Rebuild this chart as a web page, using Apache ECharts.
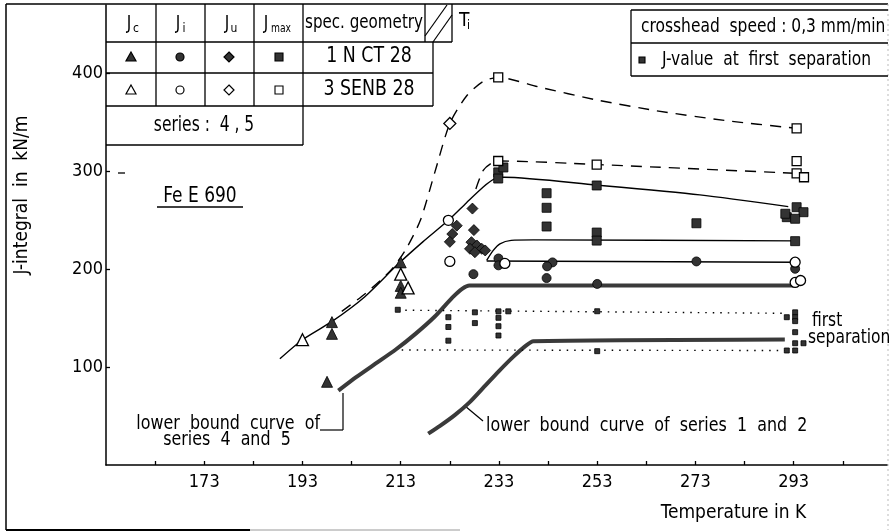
<!DOCTYPE html>
<html><head><meta charset="utf-8">
<script src="https://cdn.jsdelivr.net/npm/echarts@6/dist/echarts.min.js"></script>
<style>html,body{margin:0;padding:0;background:#fff}#c{width:890px;height:532px}</style>
</head><body><div id="c"></div>
<script>
// ---- data (T in K, J in kN/m) ----
const xTickValues = [163,173,183,193,203,213,223,233,243,253,263,273,283,293,303];
const xLabelValues = [173,193,213,233,253,273,293];
const yLabelValues = [100,200,300,400];

const jcCT   = [[198,85],[199,146],[199,134],[213,207],[213,183],[213,176]];
const jcSENB = [[193,128],[213,195],[214.5,181]];
const jiCT   = [[232.9,211],[232.9,204],[243.9,207],[242.8,203],[242.7,191],[227.8,195],[273.2,208],[253,185],[293.3,200.5]];
const jiSENB = [[222.7,250],[223,208],[234.2,206],[293.3,207.2],[293.3,186.5],[294.4,188.5]];
const juCT   = [[227.6,262],[227.9,240],[224.4,244.5],[223.5,236],[223,228],[227.4,227.7],[228.5,224.3],[229.5,220.9],[230.2,219.2],[227.1,220.9],[228.1,217.4]];
const juSENB = [[223,349]];
const jmaxCT = [[232.85,299],[232.85,292.7],[233.9,304],[242.7,277.7],[242.7,262.8],[242.7,243.7],[252.9,285.6],[252.9,237.5],[252.9,229.3],[273.2,247],[293.3,228.7],[293.6,263.4],[295,258.3],[291.6,253.2],[293.3,251.6],[291.3,256.7]];
const jmaxSENB = [[232.85,396],[232.85,310.6],[252.9,307],[293.6,344],[293.6,310.4],[293.6,298],[295.1,294]];
const firstSep = [[212.4,158.6],[222.7,151],[222.7,141],[222.7,127],[228.1,156],[228.1,145],[232.9,157],[234.9,157],[232.9,150.4],[232.9,141.8],[232.9,132.3],[253,157.1],[253,116.3],[291.6,151],[293.3,156],[293.3,151],[293.3,147],[293.3,135.7],[293.3,124.4],[295,124.4],[291.6,117],[293.3,117]];

const curveDashUpper = [[201,157],[206,176],[211,199],[214,220],[217,250],[220,300],[223,349],[226.4,377],[229.8,392],[232.85,396],[241.3,386],[252.9,373],[265,362],[279,352],[293.6,344]];
const curveSolidUpper = [[188.4,108.5],[193,128],[199.1,147],[205.7,172],[212.4,205],[217.5,228],[222.7,250],[226.4,268],[229.8,284],[232,292],[234,294],[252.9,286],[273.9,276],[291.9,264]];
const curveDashLower = [[228.3,282],[229.8,301],[231.5,308.5],[233.5,310.6],[252.9,307],[293.6,298]];
const curveJ230 = [[230.5,209],[231.8,219],[233.2,226],[235.5,229.5],[240,230],[293.3,229]];
const curveJ207 = [[230.5,208.5],[293.3,207.2]];
const lowerBound45 = [[200.3,76],[204,90],[208,104],[212,118],[216,134],[220,152],[223.5,171],[225.5,180],[227,183.4],[293,183.4]];
const lowerBound12 = [[218.6,32],[221,40],[224,51],[227,64],[230,80],[233,96],[236,111],[238.5,122],[240,126.5],[291.2,128.3]];
const sepUpper = [[212.4,158.2],[291.2,155]];
const sepLower = [[213.2,117.5],[291.2,117]];

// ---- styling ----
const FONT = "'DejaVu Sans Condensed','Liberation Sans Narrow','DejaVu Sans',sans-serif";
const FILL = '#333';
function L(x1,y1,x2,y2,w,c,dash){return {type:'line',silent:true,shape:{x1,y1,x2,y2},style:{stroke:c||'#000',lineWidth:w||1.3,lineDash:dash||null}};}
function T(x,y,text,size,align,sx){return {type:'text',silent:true,x,y,scaleX:sx||1,style:{text,fontSize:size||19,fontFamily:FONT,fill:'#000',align:align||'center',verticalAlign:'middle'}};}
function scatter(data,symbol,size,filled){
  return {type:'scatter',data,symbol,symbolSize:size,z:5,
    itemStyle:{color:filled?FILL:'#fff',borderColor:'#000',borderWidth:filled?0.8:1.3,opacity:1}};
}
function line(data,opt){
  return Object.assign({type:'line',data,symbol:'none',z:3,silent:true,
    lineStyle:{color:'#000',width:1.4}},opt||{});
}

const g = [];
// outer frame
g.push(L(6,4,888,4,1.5));
g.push(L(6,4,6,530,1.5));
g.push(L(6,530,250,530,2));
g.push(L(250,530,460,530,1.2,'#999'));
g.push(L(888,4,888,530,1,'#bbb',[2,3]));
// legend table
[156,205,254].forEach(x=>g.push(L(x,4,x,106)));
g.push(L(303,4,303,145));
g.push(L(106,42,452,42));
g.push(L(106,73,433,73));
g.push(L(106,106,433,106));
g.push(L(106,145,303,145));
g.push(L(425,4,425,42));
g.push(L(452,4,452,42));
g.push(L(433,42,433,106));
g.push(L(425,36,447,5,1.2));
g.push(L(433,42,452,15,1.2));
// header texts
g.push(T(129,24,'J',20,'center',0.85)); g.push(T(136,29,'c',12));
g.push(T(178,24,'J',20,'center',0.85)); g.push(T(184,29,'i',12));
g.push(T(227,24,'J',20,'center',0.85)); g.push(T(234,29,'u',12));
g.push(T(266,24,'J',20,'center',0.85)); g.push(T(271,29,'max',12,'left',0.85));
g.push(T(364,23,'spec. geometry',20,'center',0.84));
g.push(T(459,21,'T',19,'left')); g.push(T(467,26,'i',12,'left'));
g.push(T(369,57,'1 N CT 28',21,'center',0.92));
g.push(T(369,90,'3 SENB 28',21,'center',0.92));
g.push(T(204,126,'series :  4 , 5',21,'center',0.82));
// legend symbols
function tri(cx,cy,f){return {type:'polygon',silent:true,shape:{points:[[cx,cy-5],[cx+5,cy+4],[cx-5,cy+4]]},style:{fill:f?FILL:'#fff',stroke:'#000',lineWidth:1.2}};}
function dia(cx,cy,f){return {type:'polygon',silent:true,shape:{points:[[cx,cy-5],[cx+5,cy],[cx,cy+5],[cx-5,cy]]},style:{fill:f?FILL:'#fff',stroke:'#000',lineWidth:1.2}};}
function cir(cx,cy,f){return {type:'circle',silent:true,shape:{cx,cy,r:4},style:{fill:f?FILL:'#fff',stroke:'#000',lineWidth:1.2}};}
function sq(cx,cy,f,s){s=s||8;return {type:'rect',silent:true,shape:{x:cx-s/2,y:cy-s/2,width:s,height:s},style:{fill:f?FILL:'#fff',stroke:'#000',lineWidth:1.1}};}
g.push(tri(131,57,true),cir(180,57,true),dia(229,57,true),sq(279,57,true));
g.push(tri(131,90,false),cir(180,90,false),dia(229,90,false),sq(279,90,false));
// crosshead box
g.push(L(631,10,888,10),L(631,10,631,76),L(631,43,888,43),L(631,76,888,76));
g.push(T(641,27,'crosshead  speed : 0,3 mm/min',20,'left',0.86));
g.push(sq(642,60,true,6));
g.push(T(662,60,'J-value  at  first  separation',20,'left',0.86));
// annotations
g.push(T(200,196,'Fe E 690',22,'center',0.86));
g.push(L(157,207,243,207,1.3));
g.push(L(118,173,125,173,1.3));
g.push(T(812,321,'first',20,'left',0.86));
g.push(T(808,338,'separation',20,'left',0.86));
g.push(T(320,424,'lower  bound  curve  of',19,'right',0.93));
g.push(T(227,440,'series  4  and  5',19,'center',0.93));
g.push(L(320,430,343,430,1.2),L(343,430,343,393,1.2));
g.push(T(486,426,'lower  bound  curve  of  series  1  and  2',19,'left',0.93));
g.push(L(483,421,465,406,1.2));

const option = {
  animation:false,
  backgroundColor:'#fff',
  grid:{left:106,right:3,top:5,bottom:67},
  xAxis:{type:'value',min:153,max:312,
    name:'Temperature in K',nameLocation:'middle',nameGap:39,
    nameTextStyle:{fontSize:19,fontFamily:FONT,color:'#000',padding:[0,0,0,474]},
    axisLine:{lineStyle:{color:'#000',width:1.5}},
    axisTick:{inside:true,length:4,lineStyle:{color:'#000',width:1.3},customValues:xTickValues},
    axisLabel:{customValues:xLabelValues,fontSize:18,fontFamily:FONT,color:'#000',margin:8},
    splitLine:{show:false}},
  yAxis:{type:'value',min:0,max:470,
    name:'J-integral  in  kN/m',nameLocation:'middle',nameGap:74,
    nameTextStyle:{fontSize:19,fontFamily:FONT,color:'#000',padding:[0,0,0,80]},
    axisLine:{lineStyle:{color:'#000',width:1.5}},
    axisTick:{inside:true,length:4,lineStyle:{color:'#000',width:1.3},customValues:yLabelValues},
    axisLabel:{customValues:yLabelValues,fontSize:18,fontFamily:FONT,color:'#000',margin:3},
    splitLine:{show:false}},
  series:[
    line(curveDashUpper,{smooth:0.25,lineStyle:{color:'#000',width:1.4,type:[11,8]}}),
    line(curveSolidUpper,{smooth:0.25}),
    line(curveDashLower,{smooth:0.25,lineStyle:{color:'#000',width:1.4,type:[11,8]}}),
    line(curveJ230,{smooth:0.25}),
    line(curveJ207),
    line(lowerBound45,{smooth:0.2,lineStyle:{color:'#3a3a3a',width:4}}),
    line(lowerBound12,{smooth:0.2,lineStyle:{color:'#3a3a3a',width:4}}),
    line(sepUpper,{lineStyle:{color:'#000',width:1.4,type:[1.5,6]}}),
    line(sepLower,{lineStyle:{color:'#000',width:1.4,type:[1.5,6]}}),
    scatter(jcCT,'triangle',11,true),
    scatter(jcSENB,'triangle',12,false),
    scatter(jiCT,'circle',9,true),
    scatter(jiSENB,'circle',10,false),
    scatter(juCT,'diamond',11,true),
    scatter(juSENB,'diamond',12,false),
    scatter(jmaxCT,'rect',9,true),
    scatter(jmaxSENB,'rect',9,false),
    scatter(firstSep,'rect',5,true)
  ],
  graphic:{elements:g}
};
const chart = echarts.init(document.getElementById('c'),null,{renderer:'canvas'});
chart.setOption(option);
</script></body></html>
